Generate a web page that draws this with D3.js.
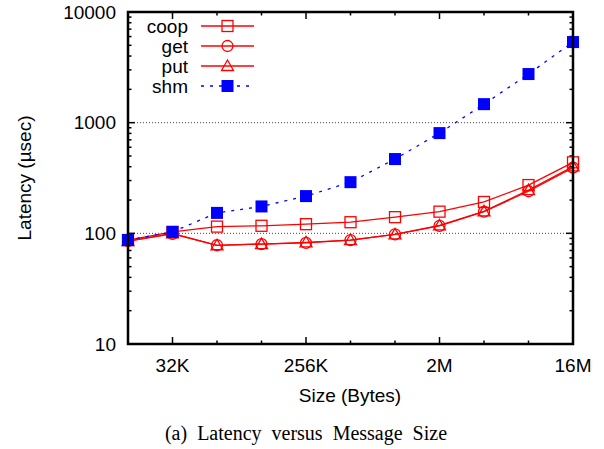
<!DOCTYPE html>
<html>
<head>
<meta charset="utf-8">
<script src="https://cdn.jsdelivr.net/npm/d3@7"></script>
<style>
  html, body { margin: 0; padding: 0; background: #fff; }
  svg { display: block; }
  text { font-family: "Liberation Sans", Arial, Helvetica, sans-serif; }
</style>
</head>
<body>
<svg id="chart" width="604" height="449"></svg>
<script>
// Message sizes (bytes) and their tick labels
const sizes = [16384, 32768, 65536, 131072, 262144, 524288, 1048576, 2097152, 4194304, 8388608, 16777216];
const xTickValues = [32768, 262144, 2097152, 16777216];
const xTickLabels = ["32K", "256K", "2M", "16M"];
const yTickValues = [10, 100, 1000, 10000];

// Latency in microseconds for each transfer method
const coop = [87, 103, 115, 117, 121, 126, 140, 157, 192, 273, 438];
const get  = [85, 99, 78, 80, 82, 87, 98, 117, 157, 240, 392];
const put  = [85, 100, 78, 80, 83, 87, 98, 118, 158, 246, 402];
const shm  = [87, 103, 153, 175, 217, 290, 469, 805, 1470, 2750, 5350];

const seriesNames = ["coop", "get", "put", "shm"];

const svg = d3.select("#chart");
const plotLeft = 128, plotRight = 573, plotTop = 12, plotBottom = 344;
const fs = 19;

const x = d3.scaleLog().base(2).domain([16384, 16777216]).range([plotLeft, plotRight]);
const y = d3.scaleLog().domain([10, 10000]).range([plotBottom, plotTop]);

// Horizontal dotted grid at major decades
svg.append("g").selectAll("line")
  .data([100, 1000])
  .join("line")
  .attr("x1", plotLeft).attr("x2", plotRight)
  .attr("y1", d => y(d)).attr("y2", d => y(d))
  .attr("stroke", "#444").attr("stroke-width", 1)
  .attr("stroke-dasharray", "1,2");

// Minor y ticks (2..9 in each decade)
const yMinor = [];
for (const dec of [10, 100, 1000]) for (let k = 2; k <= 9; k++) yMinor.push(dec * k);

const tickG = svg.append("g").attr("stroke", "#000");
// y ticks: left and right, pointing inward
tickG.selectAll(".ymaj").data(yTickValues).join("g").each(function(d) {
  const g = d3.select(this);
  g.append("line").attr("x1", plotLeft).attr("x2", plotLeft + 7).attr("y1", y(d)).attr("y2", y(d)).attr("stroke-width", 1.5);
  g.append("line").attr("x1", plotRight).attr("x2", plotRight - 7).attr("y1", y(d)).attr("y2", y(d)).attr("stroke-width", 1.5);
});
tickG.selectAll(".ymin").data(yMinor).join("g").each(function(d) {
  const g = d3.select(this);
  g.append("line").attr("x1", plotLeft).attr("x2", plotLeft + 3.5).attr("y1", y(d)).attr("y2", y(d)).attr("stroke-width", 1.5);
  g.append("line").attr("x1", plotRight).attr("x2", plotRight - 3.5).attr("y1", y(d)).attr("y2", y(d)).attr("stroke-width", 1.5);
});
// x ticks: major at labelled sizes, minor at the rest
tickG.selectAll(".xt").data(sizes).join("g").each(function(d) {
  const g = d3.select(this);
  const len = xTickValues.includes(d) ? 7 : 3.5;
  g.append("line").attr("x1", x(d)).attr("x2", x(d)).attr("y1", plotBottom).attr("y2", plotBottom - len).attr("stroke-width", 1.5);
  g.append("line").attr("x1", x(d)).attr("x2", x(d)).attr("y1", plotTop).attr("y2", plotTop + len).attr("stroke-width", 1.5);
});

// Tick labels
svg.append("g").selectAll("text").data(yTickValues).join("text")
  .attr("x", 116).attr("y", d => y(d) + 6.8)
  .attr("text-anchor", "end").attr("font-size", fs)
  .text(d => d);
svg.append("g").selectAll("text").data(xTickValues).join("text")
  .attr("x", d => x(d)).attr("y", 372)
  .attr("text-anchor", "middle").attr("font-size", fs)
  .text((d, i) => xTickLabels[i]);

// Axis titles and caption
svg.append("text").attr("transform", "translate(31,178) rotate(-90)")
  .attr("text-anchor", "middle").attr("font-size", fs).text("Latency (µsec)");
svg.append("text").attr("x", 350).attr("y", 402)
  .attr("text-anchor", "middle").attr("font-size", fs).text("Size (Bytes)");
svg.append("text").attr("x", 306).attr("y", 440)
  .attr("text-anchor", "middle").attr("font-size", 20)
  .attr("word-spacing", 5)
  .style("font-family", "'Liberation Serif', 'Times New Roman', serif")
  .text("(a) Latency versus Message Size");

// Marker drawing helper
function marker(g, type, cx, cy) {
  if (type === "square") {
    g.append("rect").attr("x", cx - 5.5).attr("y", cy - 5.5).attr("width", 11).attr("height", 11)
      .attr("fill", "none").attr("stroke", "#f00").attr("stroke-width", 1.3);
  } else if (type === "circle") {
    g.append("circle").attr("cx", cx).attr("cy", cy).attr("r", 5.5)
      .attr("fill", "none").attr("stroke", "#f00").attr("stroke-width", 1.3);
  } else if (type === "triangle") {
    g.append("path").attr("d", `M${cx},${cy - 6}L${cx + 6},${cy + 4.5}L${cx - 6},${cy + 4.5}Z`)
      .attr("fill", "none").attr("stroke", "#f00").attr("stroke-width", 1.3);
  } else {
    g.append("rect").attr("x", cx - 6).attr("y", cy - 6).attr("width", 12).attr("height", 12)
      .attr("fill", "#00f");
  }
}

const series = [
  { name: seriesNames[0], values: coop, type: "square",   color: "#f00", dash: null },
  { name: seriesNames[1], values: get,  type: "circle",   color: "#f00", dash: null },
  { name: seriesNames[2], values: put,  type: "triangle", color: "#f00", dash: null },
  { name: seriesNames[3], values: shm,  type: "filled",   color: "#00f", dash: "3,6" }
];

const line = d3.line().x((d, i) => x(sizes[i])).y(d => y(d));
const plot = svg.append("g");
series.forEach(s => {
  plot.append("path").datum(s.values).attr("d", line)
    .attr("fill", "none").attr("stroke", s.color).attr("stroke-width", 1.3)
    .attr("stroke-dasharray", s.dash);
  const mg = plot.append("g");
  s.values.forEach((v, i) => marker(mg, s.type, x(sizes[i]), y(v)));
});

// Legend
const legend = svg.append("g");
series.forEach((s, i) => {
  const ly = 26 + i * 20;
  legend.append("text").attr("x", 188).attr("y", ly + 6.8).attr("text-anchor", "end")
    .attr("font-size", fs).text(s.name);
  legend.append("line").attr("x1", 201).attr("x2", 254).attr("y1", ly).attr("y2", ly)
    .attr("stroke", s.color).attr("stroke-width", 1.3).attr("stroke-dasharray", s.dash);
  marker(legend, s.type, 227.5, ly);
});

// Plot border
svg.append("rect").attr("x", plotLeft).attr("y", plotTop).attr("width", plotRight - plotLeft).attr("height", plotBottom - plotTop)
  .attr("fill", "none").attr("stroke", "#000").attr("stroke-width", 2.5);
</script>
</body>
</html>
